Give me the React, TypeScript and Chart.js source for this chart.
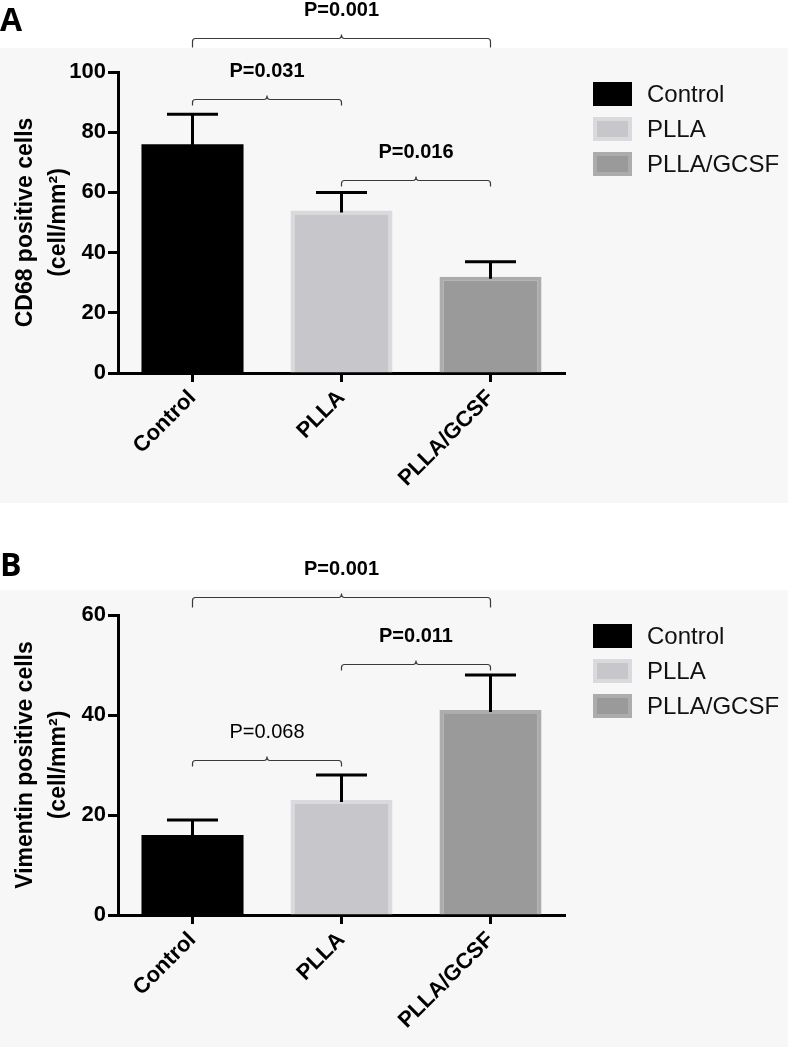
import React, { useEffect, useRef } from "react";
import { Chart, registerables } from "chart.js";

Chart.register(...registerables);

// ---------- data ----------
const categories = ["Control", "PLLA", "PLLA/GCSF"];

const cd68Means = [76, 54, 32];
const cd68Sem = [10, 6, 5];
const cd68Ticks = [0, 20, 40, 60, 80, 100];

const vimMeans = [16, 23, 41];
const vimSem = [3, 5, 7];
const vimTicks = [0, 20, 40, 60];

const fillColors = ["#000000", "#c7c7cb", "#9a9a9a"];
const edgeColors = ["#000000", "#dadadc", "#acacac"];

// significance brackets: from category, to category, level in axis units, label, bold
const cd68Brackets = [
  { from: 0, to: 2, level: 111.3, label: "P=0.001", bold: true, drop: 9 },
  { from: 0, to: 1, level: 91, label: "P=0.031", bold: true, drop: 6 },
  { from: 1, to: 2, level: 64, label: "P=0.016", bold: true, drop: 6 },
];
const vimBrackets = [
  { from: 0, to: 2, level: 63.6, label: "P=0.001", bold: true, drop: 10 },
  { from: 1, to: 2, level: 50.2, label: "P=0.011", bold: true, drop: 6 },
  { from: 0, to: 1, level: 31, label: "P=0.068", bold: false, drop: 6 },
];

const FONT = "'Liberation Sans', Arial, Helvetica, sans-serif";

type PanelCfg = {
  height: number;
  grayTop: number;
  areaTop: number;
  xAxisHeight: number;
  letter: string;
  letterY: number;
  legendTop: number;
  yTitle: string[];
  means: number[];
  sem: number[];
  ticks: number[];
  brackets: typeof cd68Brackets;
};

function makePlugin(cfg: PanelCfg) {
  return {
    id: "panelDecor",
    beforeDraw(chart: any) {
      const { ctx, width, height } = chart;
      ctx.save();
      ctx.fillStyle = "#ffffff";
      ctx.fillRect(0, 0, width, height);
      ctx.fillStyle = "#f7f7f7";
      ctx.fillRect(0, cfg.grayTop, width, height - cfg.grayTop);
      ctx.restore();
    },
    afterDatasetsDraw(chart: any) {
      const { ctx } = chart;
      const y = chart.scales.y;
      ctx.save();
      ctx.strokeStyle = "#000";
      ctx.lineWidth = 3;
      ctx.lineCap = "butt";
      chart.data.datasets.forEach((ds: any, di: number) => {
        const meta = chart.getDatasetMeta(di);
        ds.data.forEach((v: number | null, i: number) => {
          if (v == null) return;
          const bar = meta.data[i];
          const x = bar.x;
          const yTop = y.getPixelForValue(v + cfg.sem[i]);
          const yBase = y.getPixelForValue(v) + 2;
          const half = bar.width / 4;
          ctx.beginPath();
          ctx.moveTo(x, yBase);
          ctx.lineTo(x, yTop);
          ctx.moveTo(x - half, yTop);
          ctx.lineTo(x + half, yTop);
          ctx.stroke();
        });
      });
      ctx.restore();
    },
    afterDraw(chart: any) {
      const { ctx } = chart;
      const xs = chart.scales.x;
      const ys = chart.scales.y;
      ctx.save();
      // brackets
      cfg.brackets.forEach((b) => {
        const x1 = xs.getPixelForValue(b.from);
        const x2 = xs.getPixelForValue(b.to);
        const xm = (x1 + x2) / 2;
        const yl = Math.round(ys.getPixelForValue(b.level)) + 0.5;
        const r = 3;
        ctx.strokeStyle = "#3a3a3a";
        ctx.lineWidth = 1.2;
        ctx.beginPath();
        ctx.moveTo(x1, yl + b.drop);
        ctx.lineTo(x1, yl + r);
        ctx.quadraticCurveTo(x1, yl, x1 + r, yl);
        ctx.lineTo(xm - r, yl);
        ctx.quadraticCurveTo(xm, yl, xm, yl - 4);
        ctx.quadraticCurveTo(xm, yl, xm + r, yl);
        ctx.lineTo(x2 - r, yl);
        ctx.quadraticCurveTo(x2, yl, x2, yl + r);
        ctx.lineTo(x2, yl + b.drop);
        ctx.stroke();
        ctx.fillStyle = "#000";
        ctx.font = `${b.bold ? "bold " : ""}20px ${FONT}`;
        ctx.textAlign = "center";
        ctx.textBaseline = "middle";
        ctx.fillText(b.label, xm, yl - 28);
      });
      // legend
      chart.data.datasets.forEach((ds: any, i: number) => {
        const top = cfg.legendTop + i * 35;
        const left = 593;
        ctx.fillStyle = edgeColors[i];
        ctx.fillRect(left, top, 39, 24);
        ctx.fillStyle = fillColors[i];
        ctx.fillRect(left + 4, top + 4, 31, 16);
        ctx.fillStyle = "#111";
        ctx.font = `24px ${FONT}`;
        ctx.textAlign = "left";
        ctx.textBaseline = "middle";
        ctx.fillText(ds.label, 647, top + 13);
      });
      // panel letter
      ctx.fillStyle = "#000";
      ctx.font = `bold 32px 'Open Sans', 'DejaVu Sans', sans-serif`;
      ctx.textAlign = "left";
      ctx.textBaseline = "middle";
      ctx.fillText(cfg.letter, 0, cfg.letterY);
      ctx.restore();
    },
  };
}

function Panel({ cfg }: { cfg: PanelCfg }) {
  const ref = useRef<HTMLCanvasElement | null>(null);
  useEffect(() => {
    if (!ref.current) return;
    const datasets = categories.map((c, i) => ({
      label: c,
      data: categories.map((_, j) => (j === i ? cfg.means[i] : null)),
      backgroundColor: fillColors[i],
      borderColor: edgeColors[i],
      borderWidth: i === 0 ? 0 : { top: 4, left: 4, right: 4, bottom: 0 },
      borderSkipped: "bottom",
      grouped: false,
      barPercentage: 0.685,
      categoryPercentage: 1,
    }));
    const chart = new Chart(ref.current, {
      type: "bar",
      data: { labels: categories, datasets: datasets as any },
      options: {
        responsive: false,
        animation: false,
        events: [],
        layout: { padding: { top: cfg.areaTop, left: 0, right: 223, bottom: 0 } },
        plugins: { legend: { display: false }, tooltip: { enabled: false } },
        scales: {
          x: {
            offset: true,
            afterFit: (s: any) => {
              s.height = cfg.xAxisHeight;
            },
            grid: {
              display: true,
              offset: false,
              drawOnChartArea: false,
              drawTicks: true,
              tickLength: 9,
              tickWidth: 3,
              tickColor: "#000",
            },
            border: { display: true, color: "#000", width: 3 },
            ticks: {
              minRotation: 45,
              maxRotation: 45,
              color: "#000",
              padding: 3,
              font: { family: FONT, size: 22, weight: "bold" },
            },
          },
          y: {
            min: cfg.ticks[0],
            max: cfg.ticks[cfg.ticks.length - 1],
            afterBuildTicks: (s: any) => {
              s.ticks = cfg.ticks.map((v) => ({ value: v }));
            },
            afterFit: (s: any) => {
              s.width = 118;
            },
            grid: {
              display: true,
              drawOnChartArea: false,
              drawTicks: true,
              tickLength: 10,
              tickWidth: 3,
              tickColor: "#000",
            },
            border: { display: true, color: "#000", width: 3 },
            ticks: {
              color: "#000",
              padding: 2,
              font: { family: FONT, size: 22, weight: "bold" },
            },
            title: {
              display: true,
              text: cfg.yTitle,
              color: "#000",
              padding: { top: 10, bottom: 0 },
              font: { family: FONT, size: 23, weight: "bold", lineHeight: 1.4 },
            },
          },
        },
      },
      plugins: [makePlugin(cfg)],
    } as any);
    return () => chart.destroy();
  }, [cfg]);
  return <canvas ref={ref} width={788} height={cfg.height} style={{ display: "block" }} />;
}

const panelA: PanelCfg = {
  height: 503,
  grayTop: 48,
  areaTop: 72,
  xAxisHeight: 130,
  letter: "A",
  letterY: 22,
  legendTop: 82,
  yTitle: ["CD68 positive cells", "(cell/mm²)"],
  means: cd68Means,
  sem: cd68Sem,
  ticks: cd68Ticks,
  brackets: cd68Brackets,
};

const panelB: PanelCfg = {
  height: 544,
  grayTop: 87,
  areaTop: 112,
  xAxisHeight: 132,
  letter: "B",
  letterY: 64,
  legendTop: 121,
  yTitle: ["Vimentin positive cells", "(cell/mm²)"],
  means: vimMeans,
  sem: vimSem,
  ticks: vimTicks,
  brackets: vimBrackets,
};

export default function App() {
  return (
    <div style={{ position: "absolute", left: 0, top: 0, width: 788, height: 1047, background: "#fff" }}>
      <Panel cfg={panelA} />
      <Panel cfg={panelB} />
    </div>
  );
}
